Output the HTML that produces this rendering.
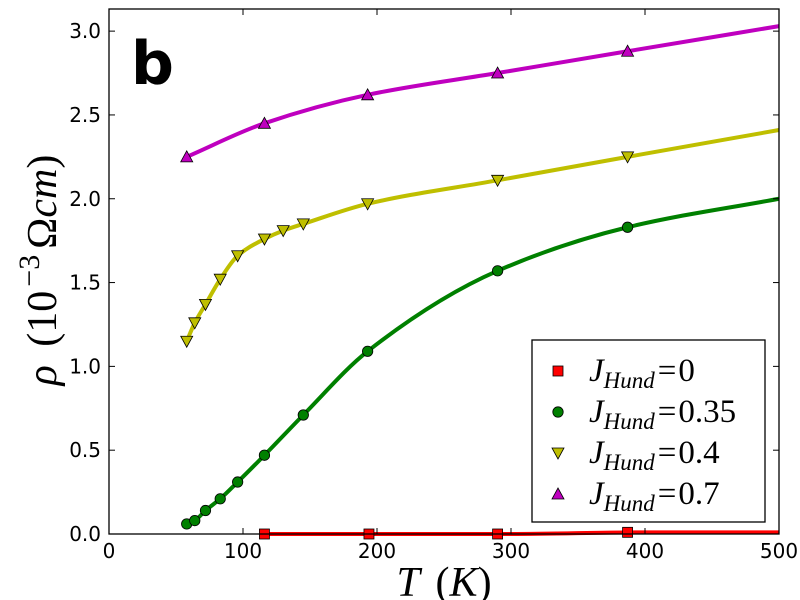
<!DOCTYPE html>
<html><head><meta charset="utf-8"><style>
html,body{margin:0;padding:0;background:#fff;}
.m{font-family:"Liberation Serif",serif;font-style:italic;}
.tk{font-family:"DejaVu Sans",sans-serif;}
</style></head><body>
<svg id="chart" width="800" height="600" xmlns="http://www.w3.org/2000/svg" style="position:absolute;left:0;top:0">
<rect x="0" y="0" width="800" height="600" fill="#fff"/>
<g id="lines"></g><g id="marks"></g><g id="axes"></g>
<text x="131" y="84" font-size="60" font-weight="bold" font-family="DejaVu Sans,sans-serif">b</text>
<text x="444" y="596" text-anchor="middle" font-size="42" font-family="Liberation Serif,serif" font-style="italic" word-spacing="6">T <tspan font-style="normal">(</tspan>K<tspan font-style="normal">)</tspan></text>
<text transform="translate(56,270) rotate(-90)" text-anchor="middle" font-size="42" font-family="Liberation Serif,serif" font-style="italic">ρ <tspan font-style="normal" dx="8">(10</tspan><tspan font-style="normal" font-size="30" dy="-17" dx="4">−3</tspan><tspan font-style="normal" dy="17" dx="6">Ω</tspan>cm<tspan font-style="normal">)</tspan></text>
</svg>
<script>
const xTicks=[0,100,200,300,400,500];
const yTicks=[0.0,0.5,1.0,1.5,2.0,2.5,3.0];
const redT=[116,194,290,387];
const redRho=[0.0,0.0,0.0,0.01];
const redLineT=[116,200,300,400,500];
const redLineRho=[0.0,0.0,0.0,0.01,0.01];
const greenT=[58,64,72,83,96,116,145,193,290,387];
const greenRho=[0.06,0.08,0.14,0.21,0.31,0.47,0.71,1.09,1.57,1.83];
const greenLineT=[58,64,72,83,96,116,145,193,290,387,500];
const greenLineRho=[0.06,0.08,0.14,0.21,0.31,0.47,0.71,1.09,1.57,1.83,2.0];
const yellowT=[58,64,72,83,96,116,130,145,193,290,387];
const yellowRho=[1.15,1.26,1.37,1.52,1.66,1.76,1.81,1.85,1.97,2.11,2.25];
const yellowLineT=[58,64,72,83,96,116,130,145,193,290,387,500];
const yellowLineRho=[1.15,1.26,1.37,1.52,1.66,1.76,1.81,1.85,1.97,2.11,2.25,2.41];
const magentaT=[58,116,193,290,387];
const magentaRho=[2.25,2.45,2.62,2.75,2.88];
const magentaLineT=[58,116,193,290,387,500];
const magentaLineRho=[2.25,2.45,2.62,2.75,2.88,3.03];

const X0=109,X1=779,Y0=534,Y1=9;
const xs=v=>X0+(v-0)/(500-0)*(X1-X0);
const ys=v=>Y0-(v-0)/(3.132)*(Y0-Y1);
const NS="http://www.w3.org/2000/svg";
function mk(t,a,p){const e=document.createElementNS(NS,t);for(const k in a)e.setAttribute(k,a[k]);p.appendChild(e);return e;}
const L=document.getElementById('lines'),M=document.getElementById('marks'),A=document.getElementById('axes');
function smooth(T,R){
 const n=T.length,x=T.map(xs),y=R.map(ys),d=[],m=[];
 for(let i=0;i<n-1;i++)d.push((y[i+1]-y[i])/(x[i+1]-x[i]));
 m[0]=d[0];m[n-1]=d[n-2];
 for(let i=1;i<n-1;i++){if(d[i-1]*d[i]<=0)m[i]=0;else{const h0=x[i]-x[i-1],h1=x[i+1]-x[i];const w1=2*h1+h0,w2=h1+2*h0;m[i]=(w1+w2)/(w1/d[i-1]+w2/d[i]);}}
 let p="M"+x[0]+","+y[0];
 for(let i=0;i<n-1;i++){const h=(x[i+1]-x[i])/3;p+=" C"+(x[i]+h)+","+(y[i]+m[i]*h)+" "+(x[i+1]-h)+","+(y[i+1]-m[i+1]*h)+" "+x[i+1]+","+y[i+1];}
 return p;}
function marker(type,cx,cy,col,parent){
 if(type==='s')return mk('rect',{x:cx-5,y:cy-5,width:10,height:10,fill:col,stroke:'#000','stroke-width':0.8},parent);
 if(type==='o')return mk('circle',{cx:cx,cy:cy,r:5.2,fill:col,stroke:'#000','stroke-width':0.8},parent);
 if(type==='v')return mk('polygon',{points:`${cx-6},${cy-5} ${cx+6},${cy-5} ${cx},${cy+6}`,fill:col,stroke:'#000','stroke-width':0.8},parent);
 return mk('polygon',{points:`${cx-6},${cy+5} ${cx+6},${cy+5} ${cx},${cy-6}`,fill:col,stroke:'#000','stroke-width':0.8},parent);}
const S=[
 {n:'red',c:'#ff0000',m:'s',T:redT,R:redRho,LT:redLineT,LR:redLineRho},
 {n:'green',c:'#008000',m:'o',T:greenT,R:greenRho,LT:greenLineT,LR:greenLineRho},
 {n:'yellow',c:'#bfbf00',m:'v',T:yellowT,R:yellowRho,LT:yellowLineT,LR:yellowLineRho},
 {n:'magenta',c:'#bf00bf',m:'^',T:magentaT,R:magentaRho,LT:magentaLineT,LR:magentaLineRho}];
S.forEach(s=>{
 const l=mk('path',{d:smooth(s.LT,s.LR),fill:'none',stroke:s.c,'stroke-width':4},L);
 
 
 s.T.forEach((t,i)=>{const e=marker(s.m,xs(t),ys(s.R[i]),s.c,M);
 
 });
});
const fr=mk('rect',{x:X0,y:Y1,width:X1-X0,height:Y0-Y1,fill:'none',stroke:'#000','stroke-width':1.3},A);


xTicks.forEach(v=>{const x=xs(v);
 mk('line',{x1:x,y1:Y0,x2:x,y2:Y0-6,stroke:'#000'},A);mk('line',{x1:x,y1:Y1,x2:x,y2:Y1+6,stroke:'#000'},A);
 const t=mk('text',{x:x,y:Y0+24,'text-anchor':'middle','font-size':20,'class':'tk'},A);t.textContent=v;
 
 });
yTicks.forEach(v=>{const y=ys(v);
 mk('line',{x1:X0,y1:y,x2:X0+6,y2:y,stroke:'#000'},A);mk('line',{x1:X1,y1:y,x2:X1-6,y2:y,stroke:'#000'},A);
 const t=mk('text',{x:X0-8,y:y+7,'text-anchor':'end','font-size':20,'class':'tk'},A);t.textContent=v.toFixed(1);
 
 });
const lg=mk('g',{},A);


mk('rect',{x:532,y:340,width:233,height:182,fill:'#fff',stroke:'#000','stroke-width':1.3},lg);
const labels=['0','0.35','0.4','0.7'];
S.forEach((s,i)=>{const y=371+i*41;
 const e=marker(s.m,558,y,s.c,lg);
 
 
 const t=mk('text',{x:589,y:y+10,'font-size':33,'class':'m'},lg);
 t.innerHTML='J<tspan font-size="23" dy="7">Hund</tspan><tspan dy="-7" font-style="normal" dx="3">=</tspan><tspan font-style="normal" dx="2">'+labels[i]+'</tspan>';
 
 });
</script>
</body></html>
